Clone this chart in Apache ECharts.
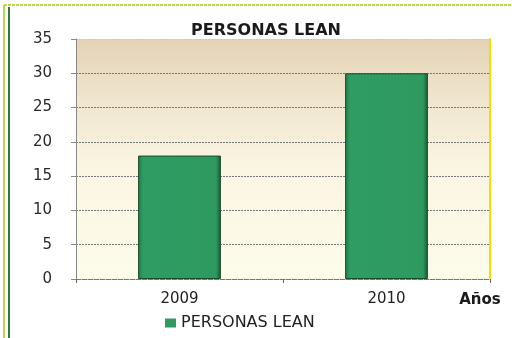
<!DOCTYPE html>
<html>
<head>
<meta charset="utf-8">
<script src="https://cdn.jsdelivr.net/npm/echarts@6/dist/echarts.min.js"></script>
<style>
html,body{margin:0;padding:0;background:#fff;}
#chart{width:512px;height:338px;}
</style>
</head>
<body>
<div id="chart"></div>
<script>
var categories = ['2009', '2010'];
var seriesName = 'PERSONAS LEAN';
var values = [18, 30];
var chartTitle = 'PERSONAS LEAN';
var xAxisName = 'Años';
var yMin = 0, yMax = 35, yInterval = 5;

var chart = echarts.init(document.getElementById('chart'));
var font = 'DejaVu Sans';
chart.setOption({
  animation: false,
  backgroundColor: '#ffffff',
  title: {
    text: chartTitle,
    left: 261, top: 18, textAlign: 'center',
    textStyle: { fontFamily: font, fontSize: 16, fontWeight: 'bold', color: '#1a1a1a' }
  },
  legend: {
    data: [seriesName],
    left: 160, top: 310,
    icon: 'rect', itemWidth: 11, itemHeight: 9, itemGap: 6,
    itemStyle: { color: '#2e9a60', borderWidth: 0 },
    textStyle: { fontFamily: font, fontSize: 16, color: '#222' }
  },
  grid: {
    left: 76, right: 22, top: 39, bottom: 59,
    show: true, borderWidth: 0,
    backgroundColor: {
      type: 'linear', x: 0, y: 0, x2: 0, y2: 1,
      colorStops: [
        { offset: 0, color: '#e4d3b6' },
        { offset: 0.3, color: '#f2e8d2' },
        { offset: 0.55, color: '#fbf6e3' },
        { offset: 1, color: '#fdfbea' }
      ]
    }
  },
  xAxis: {
    type: 'category',
    data: categories,
    name: xAxisName,
    nameLocation: 'end',
    nameGap: -10,
    nameTextStyle: { fontFamily: font, fontSize: 15, fontWeight: 'bold', color: '#1a1a1a',
      align: 'center', verticalAlign: 'top', padding: [14, 0, 0, 0] },
    axisLine: { show: true, lineStyle: { color: '#777', type: 'dashed', width: 1 } },
    axisTick: { show: true, length: 4, lineStyle: { color: '#666' } },
    axisLabel: { fontFamily: font, fontSize: 15, color: '#222', margin: 13 }
  },
  yAxis: [{
    type: 'value', min: yMin, max: yMax, interval: yInterval,
    axisLine: { show: true, lineStyle: { color: '#888', width: 1 } },
    axisTick: { show: true, length: 5, lineStyle: { color: '#888' } },
    axisLabel: { fontFamily: font, fontSize: 15, color: '#2a2a2a', margin: 24 },
    splitLine: { show: true, lineStyle: {
      color: ['#777', '#777', '#777', '#777', '#777', '#777', '#777', '#e0c890'],
      type: [2, 1], width: 1 } }
  }, {
    type: 'value', min: yMin, max: yMax, interval: yInterval, position: 'right',
    axisLine: { show: true, lineStyle: { color: '#f0e000', width: 2 } },
    axisTick: { show: false }, axisLabel: { show: false }, splitLine: { show: false }
  }],
  graphic: [
    { type: 'line', shape: { x1: 4, y1: 5, x2: 4, y2: 338 }, style: { stroke: '#b7d84c', lineWidth: 2 } },
    { type: 'line', shape: { x1: 9, y1: 7, x2: 9, y2: 338 }, style: { stroke: '#2c7a3c', lineWidth: 2 } },
    { type: 'line', shape: { x1: 4, y1: 5, x2: 512, y2: 5 }, style: { stroke: '#b7d84c', lineWidth: 2, lineDash: [3, 1] } }
  ],
  series: [{
    name: seriesName,
    type: 'bar',
    data: values,
    barWidth: '40%',
    itemStyle: {
      color: {
        type: 'linear', x: 0, y: 0, x2: 1, y2: 0,
        colorStops: [
          { offset: 0, color: '#1f7a45' },
          { offset: 0.06, color: '#2f9c63' },
          { offset: 0.94, color: '#2e9a60' },
          { offset: 1, color: '#155a30' }
        ]
      },
      borderColor: '#1b4a2a', borderWidth: 1
    }
  }]
});
</script>
</body>
</html>
